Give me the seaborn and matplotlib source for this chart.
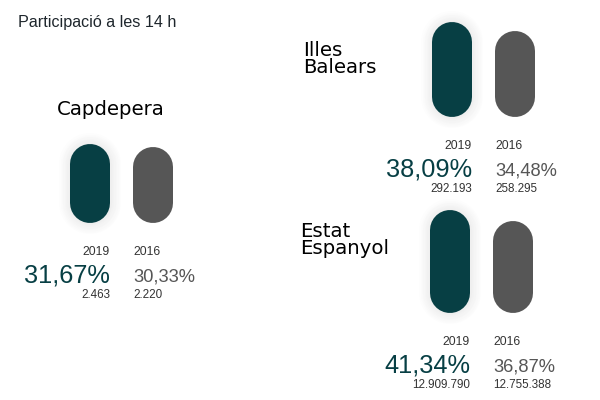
"""
Participació a les 14 h - pill bars for three territories.
"""
import matplotlib.pyplot as plt
import pandas as pd
import seaborn as sns

title = "Participació a les 14 h"
regions = ["Capdepera", "Illes\nBalears", "Estat\nEspanyol"]
years = ["2019", "2016"]
pct_2019 = [31.67, 38.09, 41.34]
pct_2016 = [30.33, 34.48, 36.87]
votes_2019 = [2463, 292193, 12909790]
votes_2016 = [2220, 258295, 12755388]

TEAL = "#073f44"
GRAY = "#565656"
TXT = "#333333"

W, H = 600, 400
PX = 2.49        # pixels per percentage point
STEP = 63        # pixels between the two bars
BAR = 40         # bar width in pixels
YMAX = 45

# panel layout in pixels: centre of 2019 bar, baseline y, label x, label baseline, label align
panels = [
    (90, 223, 111, 115, "center"),
    (452, 117, 303, 73, "left"),
    (450, 313, 300, 254, "left"),
]


def fmt_pct(v):
    return f"{v:.2f}".replace(".", ",") + "%"


def fmt_int(n):
    return f"{n:,}".replace(",", ".")


def draw_panel(fig, idx):
    cx, base, lx, ly, lha = panels[idx]
    left = cx - 0.6 * STEP
    ax = fig.add_axes([left / W, (H - base) / H, 2.2 * STEP / W, YMAX * PX / H])
    df = pd.DataFrame({"year": years, "pct": [pct_2019[idx], pct_2016[idx]]})
    sns.barplot(data=df, x="year", y="pct", hue="year", palette=[TEAL, GRAY],
                width=BAR / STEP, saturation=1, legend=False, ax=ax)
    ax.set_xlim(-0.6, 1.6)
    ax.set_ylim(0, YMAX)
    ax.axis("off")

    r = BAR / 2 / PX
    lw = BAR * 72 / 100
    for k, p in enumerate(ax.patches):
        p.set_visible(False)
        x = p.get_x() + p.get_width() / 2
        h = p.get_height()
        if k == 0:
            # faint shadow round the 2019 bar
            for s in range(1, 9):
                ax.plot([x, x], [r, h - r], color="#000000", alpha=0.006,
                        lw=lw + s * 2.0, solid_capstyle="round", clip_on=False, zorder=1)
        ax.plot([x, x], [r, h - r], color=p.get_facecolor(), lw=lw,
                solid_capstyle="round", clip_on=False, zorder=2)

    xr = 0 + BAR / STEP / 2
    xl = 1 - BAR / STEP / 2
    f = dict(family="Liberation Sans", va="baseline")
    ax.text(xr, -32 / PX, years[0], ha="right", fontsize=8.7, color=TXT, **f)
    ax.text(xl, -32 / PX, years[1], ha="left", fontsize=8.7, color=TXT, **f)
    ax.text(xr, -59 / PX, fmt_pct(pct_2019[idx]), ha="right", fontsize=18.3, color=TEAL, **f)
    ax.text(xl, -59 / PX, fmt_pct(pct_2016[idx]), ha="left", fontsize=13.2, color=GRAY, **f)
    ax.text(xr, -75 / PX, fmt_int(votes_2019[idx]), ha="right", fontsize=8.4, color=TXT, **f)
    ax.text(xl, -75 / PX, fmt_int(votes_2016[idx]), ha="left", fontsize=8.4, color=TXT, **f)

    fig.text(lx / W, 1 - ly / H, regions[idx], ha=lha, va="baseline",
             family="DejaVu Sans", fontsize=14.2, color="black", linespacing=0.85)


def main():
    sns.set_style("white")
    fig = plt.figure(figsize=(W / 100, H / 100), dpi=100)
    fig.patch.set_facecolor("white")
    fig.text(18 / W, 1 - 27 / H, title, ha="left", va="baseline",
             family="Liberation Sans", fontsize=11.6, color="#1e262c")
    for i in range(len(regions)):
        draw_panel(fig, i)
    fig.savefig("out.png", dpi=100, facecolor="white")


if __name__ == "__main__":
    main()
